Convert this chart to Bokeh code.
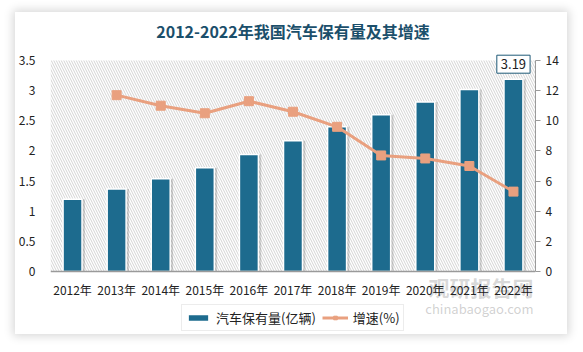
import math
from bokeh.plotting import figure
from bokeh.models import (ColumnDataSource, Range1d, LinearAxis, FixedTicker, NumeralTickFormatter,
                          BoxAnnotation, Legend, LegendItem, Label, Title, Span)
from bokeh.core.properties import value
from bokeh.transform import dodge
from bokeh.embed import file_html
from bokeh.resources import INLINE

# ---- data ----
years = ["2012年", "2013年", "2014年", "2015年", "2016年", "2017年",
         "2018年", "2019年", "2020年", "2021年", "2022年"]
stock = [1.20, 1.37, 1.54, 1.72, 1.94, 2.17, 2.40, 2.60, 2.81, 3.02, 3.19]
growth = [math.nan, 11.7, 11.0, 10.5, 11.3, 10.6, 9.6, 7.7, 7.5, 7.0, 5.3]
left_ticks = [0, 0.5, 1, 1.5, 2, 2.5, 3, 3.5]
right_ticks = [0, 2, 4, 6, 8, 10, 12, 14]
title_text = "2012-2022年我国汽车保有量及其增速"
bar_label = "汽车保有量(亿辆)"
line_label = "增速(%)"

FONT = "Noto Sans CJK SC"
BAR = "#1d6b8e"
LINE = "#e9a07f"
TXT = "#222222"

# ---- layout (pixels) ----
AXIS_PX = 211          # height of the 0..max value band
TOP_PAD_PX = 14        # room above the value band
BOTTOM_PX = 63         # room below the value band (axis labels, legend)
FRAME_H = AXIS_PX + TOP_PAD_PX + BOTTOM_PX
FRAME_W = 485

lmax, rmax = left_ticks[-1], right_ticks[-1]
lunit = lmax / AXIS_PX
runit = rmax / AXIS_PX

src = ColumnDataSource(dict(year=years, stock=stock, growth=growth))

p = figure(x_range=years,
           y_range=Range1d(-BOTTOM_PX * lunit, lmax + TOP_PAD_PX * lunit),
           width=552, height=326, frame_height=FRAME_H, frame_width=FRAME_W,
           output_backend="svg", toolbar_location=None,
           min_border_left=35, min_border_right=32, min_border_top=0, min_border_bottom=0)
p.margin = (12, 0, 0, 15)
p.styles = {"box-shadow": "0 0 9px 2px rgba(0,0,0,0.16)"}
p.background_fill_color = "white"
p.border_fill_color = "white"
p.outline_line_color = None
p.xgrid.grid_line_color = None
p.ygrid.grid_line_color = None
p.xaxis.visible = False

p.title = Title(text=title_text, align="center", text_font=FONT, text_font_size="16px",
                text_font_style="bold", text_color="#1b4f6b", standoff=8)

p.extra_y_ranges = {"g": Range1d(-BOTTOM_PX * runit, rmax + TOP_PAD_PX * runit)}

# hatched plot-area background
p.add_layout(BoxAnnotation(bottom=left_ticks[0], top=lmax,
                           fill_color="white", fill_alpha=1, line_color=None,
                           hatch_pattern="\\", hatch_color="#d3d3d3", hatch_scale=5,
                           hatch_weight=1, level="underlay"))

# watermark
p.add_layout(Label(x=FRAME_W - 2, y=33, x_units="screen", y_units="screen", text="观研报告网",
                   text_font=FONT, text_font_size="21px", text_font_style="bold",
                   text_align="right",
                   text_color="#9a9a9a", text_alpha=0.4, level="underlay"))
p.add_layout(Label(x=FRAME_W - 2, y=17, x_units="screen", y_units="screen", text="chinabaogao.com",
                   text_font=FONT, text_font_size="13px", text_align="right",
                   text_color="#9a9a9a", text_alpha=0.45, level="underlay"))

# bar shadows
p.vbar(x=dodge("year", 0.05, range=p.x_range), top="stock", width=0.46, source=src,
       fill_color="black", fill_alpha=0.16, line_color=None)
bars = p.vbar(x="year", top="stock", width=0.43, source=src,
              fill_color=BAR, line_color="white", line_width=1.5)

ln = p.line(x="year", y="growth", source=src, y_range_name="g", color=LINE, line_width=3)
sc = p.scatter(x="year", y="growth", source=src, y_range_name="g", marker="square",
               size=9, fill_color=LINE, line_color=LINE)

# category axis (line at value 0 + labels)
p.add_layout(Span(location=0, dimension="width", line_color="#9a9a9a", line_width=1.5))
p.text(x="year", y=0, text="year", source=src, text_font=value(FONT),
       text_font_size="12px", text_color=TXT, text_align="center",
       text_baseline="middle", y_offset=18)

ya = p.yaxis[0]
ya.ticker = FixedTicker(ticks=left_ticks)
ya.formatter = NumeralTickFormatter(format="0.[0]")
ya.axis_line_color = None
ya.major_tick_line_color = None
ya.minor_tick_line_color = None
ya.major_label_text_font = FONT
ya.major_label_text_font_size = "12px"
ya.major_label_text_color = TXT
ya.major_label_standoff = 9

ra = LinearAxis(y_range_name="g", ticker=FixedTicker(ticks=right_ticks),
                bounds=(right_ticks[0], rmax))
ra.axis_line_color = "#9a9a9a"
ra.major_tick_line_color = "#9a9a9a"
ra.major_tick_out = 5
ra.major_tick_in = 0
ra.minor_tick_line_color = None
ra.major_label_text_font = FONT
ra.major_label_text_font_size = "12px"
ra.major_label_text_color = TXT
ra.major_label_standoff = 5
p.add_layout(ra, "right")

# data label on last bar (factor centre in synthetic coordinates)
last = len(years) - 1
p.add_layout(Label(x=last + 0.5, y=stock[last], text=f"{stock[last]:.2f}", text_font=FONT,
                   text_font_size="13px", text_color=TXT, text_align="center",
                   text_baseline="bottom", y_offset=6, padding=4,
                   border_line_color="#1f5a78", border_line_width=1,
                   background_fill_color="white"))

# legend (inside the lower part of the frame)
legend = Legend(items=[LegendItem(label=bar_label, renderers=[bars]),
                       LegendItem(label=line_label, renderers=[ln, sc])],
                orientation="horizontal", location=(131, 3),
                label_text_font=FONT, label_text_font_size="13px", label_text_color=TXT,
                glyph_width=26, glyph_height=9, label_standoff=5, spacing=6,
                padding=3, margin=0, border_line_color="#d9d9d9",
                background_fill_color="white")
p.add_layout(legend, "center")

open("out.html", "w").write(file_html(p, INLINE))
